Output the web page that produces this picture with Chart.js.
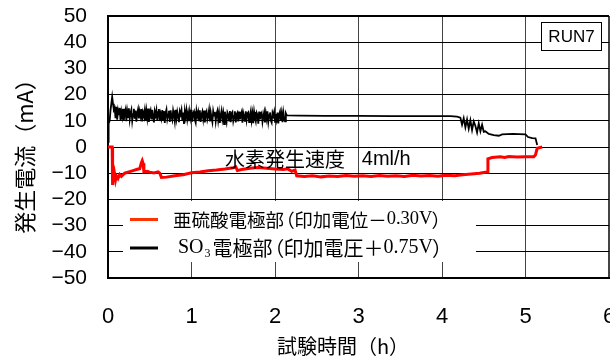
<!DOCTYPE html>
<html>
<head>
<meta charset="utf-8">
<script src="https://cdn.jsdelivr.net/npm/chart.js@4/dist/chart.umd.min.js"></script>
<style>
  html, body { margin: 0; padding: 0; background: #fff; }
</style>
</head>
<body>
<canvas id="chart" width="610" height="361"></canvas>
<script>
// SO3 electrode current, [time (h), current (mA)]
const so3Points = [
  [0.0, 2.0], [0.005, 2.2], [0.01, 9.0], [0.02, 10.0], [0.03, 14.0], [0.05, 19.2], [0.06, 16.5], [0.07, 14.2],
  [0.08, 14.8], [0.09, 11.0], [0.10, 15.3], [0.11, 10.4], [0.12, 13.9], [0.13, 12.2], [0.14, 14.9], [0.15, 10.1], [0.16, 13.5], [0.17, 11.6],
  [0.18, 14.6], [0.19, 10.3], [0.20, 12.8], [0.21, 14.2], [0.22, 9.9], [0.23, 13.7], [0.24, 11.4], [0.25, 14.8], [0.26, 10.6], [0.27, 13.1],
  [0.28, 14.3], [0.29, 10.0], [0.30, 12.5], [0.31, 14.6], [0.32, 10.8], [0.33, 13.9], [0.34, 9.7], [0.35, 12.9], [0.36, 14.4], [0.37, 10.9],
  [0.38, 13.6], [0.39, 11.8], [0.40, 14.5], [0.41, 9.8], [0.42, 13.2], [0.43, 12.0], [0.44, 14.1], [0.45, 10.2], [0.46, 13.8], [0.47, 11.1],
  [0.48, 14.7], [0.49, 9.6], [0.50, 12.7], [0.51, 13.9], [0.52, 10.5], [0.53, 14.2], [0.54, 11.3], [0.55, 9.4], [0.56, 13.6], [0.57, 12.1],
  [0.58, 14.0], [0.59, 10.1], [0.60, 13.3], [0.61, 14.5], [0.62, 9.9], [0.63, 12.6], [0.64, 11.0], [0.65, 14.1], [0.66, 10.4], [0.67, 13.7],
  [0.68, 9.2], [0.69, 13.0], [0.70, 14.3], [0.71, 10.7], [0.72, 12.4], [0.73, 13.8], [0.74, 9.6], [0.75, 14.0], [0.76, 11.5], [0.77, 10.3],
  [0.78, 13.9], [0.79, 12.2], [0.80, 9.8], [0.81, 14.2], [0.82, 10.9], [0.83, 13.4], [0.84, 11.7], [0.85, 9.5], [0.86, 13.6], [0.87, 12.5],
  [0.88, 14.1], [0.89, 10.0], [0.90, 13.1], [0.91, 8.8], [0.92, 13.7], [0.93, 11.4], [0.94, 14.0], [0.95, 10.6], [0.96, 12.8], [0.97, 9.9],
  [0.98, 13.5], [0.99, 11.2], [1.00, 14.2], [1.01, 9.7], [1.02, 12.9], [1.03, 13.6], [1.04, 10.4], [1.05, 9.3], [1.06, 13.8], [1.07, 11.8],
  [1.08, 13.3], [1.09, 10.2], [1.10, 14.0], [1.11, 9.6], [1.12, 12.3], [1.13, 13.5], [1.14, 10.8], [1.15, 13.9], [1.16, 9.4], [1.17, 12.7],
  [1.18, 13.6], [1.19, 10.5], [1.20, 11.9], [1.21, 14.1], [1.22, 9.8], [1.23, 13.2], [1.24, 11.1], [1.25, 9.5], [1.26, 13.7], [1.27, 12.0],
  [1.28, 13.4], [1.29, 9.9], [1.30, 12.6], [1.31, 13.8], [1.32, 10.3], [1.33, 13.0], [1.34, 9.2], [1.35, 12.2], [1.36, 13.9], [1.37, 10.7],
  [1.38, 12.8], [1.39, 8.7], [1.40, 13.5], [1.41, 11.3], [1.42, 9.6], [1.43, 13.2], [1.44, 12.4], [1.45, 10.1], [1.46, 13.7], [1.47, 9.5],
  [1.48, 12.9], [1.49, 13.4], [1.50, 10.0], [1.51, 11.8], [1.52, 13.6], [1.53, 9.4], [1.54, 12.5], [1.55, 13.1], [1.56, 9.8], [1.57, 13.5],
  [1.58, 10.6], [1.59, 12.2], [1.60, 13.3], [1.61, 9.3], [1.62, 13.0], [1.63, 11.6], [1.64, 9.7], [1.65, 13.6], [1.66, 10.4], [1.67, 12.8],
  [1.68, 13.2], [1.69, 9.5], [1.70, 12.0], [1.71, 13.7], [1.72, 10.2], [1.73, 12.7], [1.74, 9.1], [1.75, 13.4], [1.76, 11.2], [1.77, 9.8],
  [1.78, 13.1], [1.79, 12.3], [1.80, 8.9], [1.81, 13.5], [1.82, 10.6], [1.83, 12.4], [1.84, 13.0], [1.85, 9.6], [1.86, 11.7], [1.87, 13.3],
  [1.88, 9.4], [1.89, 12.9], [1.90, 10.8], [1.91, 13.6], [1.92, 9.7], [1.93, 12.2], [1.94, 13.2], [1.95, 10.1], [1.96, 9.3], [1.97, 13.0],
  [1.98, 11.9], [1.99, 13.4], [2.00, 9.6], [2.01, 12.6], [2.02, 10.5], [2.03, 13.1], [2.04, 9.0], [2.05, 12.4], [2.06, 13.5], [2.07, 10.2],
  [2.08, 12.8], [2.09, 9.5], [2.10, 13.2], [2.11, 11.0], [2.12, 9.8], [2.13, 12.9], [2.14, 12.2],
  [2.15, 12.1], [2.3, 12.0], [2.6, 11.9], [3.0, 11.9], [3.4, 11.8], [3.8, 11.8], [4.1, 11.8], [4.18, 11.6],
  [4.22, 11.2], [4.24, 8.5], [4.26, 11.0], [4.28, 7.5], [4.30, 10.5], [4.32, 7.0], [4.34, 10.2], [4.36, 6.5],
  [4.38, 9.8], [4.40, 8.0], [4.42, 5.5], [4.44, 9.0], [4.46, 6.0], [4.48, 8.5], [4.50, 5.8], [4.52, 6.0],
  [4.56, 5.0], [4.62, 4.5], [4.68, 4.3], [4.72, 4.8], [4.78, 4.9], [4.85, 5.0], [4.92, 4.9], [5.0, 4.8],
  [5.03, 3.8], [5.08, 3.4], [5.12, 3.3], [5.14, 0.8]
];

// sulfite electrode current, [time (h), current (mA)]
const acidPoints = [
  [0.0, 0.0], [0.05, 0.0], [0.055, -14.5], [0.06, -11.0], [0.07, -13.0], [0.08, -10.5], [0.09, -12.5],
  [0.10, -11.0], [0.12, -12.0], [0.14, -10.5], [0.16, -11.2], [0.20, -10.0], [0.25, -9.5], [0.30, -9.0],
  [0.35, -8.5], [0.38, -8.3], [0.40, -6.0], [0.41, -5.2], [0.42, -6.2], [0.43, -9.5], [0.47, -9.3],
  [0.50, -9.6], [0.55, -9.9], [0.60, -9.5], [0.62, -10.0], [0.64, -11.6], [0.70, -11.5], [0.80, -11.0],
  [0.90, -10.6], [1.00, -9.8], [1.10, -9.5], [1.20, -9.1], [1.30, -8.8], [1.40, -8.4], [1.50, -7.9],
  [1.53, -7.6], [1.55, -9.0], [1.60, -8.6], [1.70, -8.1], [1.80, -7.8], [1.90, -8.1], [2.00, -8.4],
  [2.10, -8.6], [2.15, -8.3], [2.20, -9.3], [2.24, -8.8], [2.26, -11.0], [2.35, -11.3], [2.45, -11.0],
  [2.55, -11.4], [2.65, -11.1], [2.75, -11.3], [2.85, -10.9], [2.95, -11.2], [3.05, -11.0], [3.15, -11.3],
  [3.25, -10.9], [3.35, -11.2], [3.45, -11.0], [3.55, -11.3], [3.65, -10.8], [3.75, -11.1], [3.85, -10.9],
  [3.95, -11.2], [4.05, -10.8], [4.15, -11.0], [4.25, -10.6], [4.35, -10.3], [4.45, -10.0], [4.52, -9.6],
  [4.545, -9.5], [4.55, -4.5], [4.60, -4.0], [4.70, -3.7], [4.75, -4.0], [4.80, -3.6], [4.90, -3.8],
  [5.00, -3.7], [5.10, -3.7], [5.12, -3.0], [5.14, -0.5], [5.20, 0.0]
];

const seriesLabels = ['亜硫酸電極部（印加電位－0.30V）', 'SO₃電極部（印加電圧＋0.75V）'];
const seriesColors = ['#ff0000', '#000000'];
const legendColors = ['#ff3300', '#000000'];
// legend rows split by script so Latin parts can use a serif face
const legendRows = [
  [['亜硫酸電極部', 'jp'], ['（', 'open'], ['印加電位－', 'jp'], ['0.30V', 'serif'], ['）', 'close']],
  [['SO', 'serif'], ['3', 'sub'], ['電極部', 'jp'], ['（', 'open'], ['印加電圧＋', 'jp'], ['0.75V', 'serif'], ['）', 'close']]
];
const xTitle = '試験時間（h）';
const yTitle = '発生電流（mA）';
const noteParts = ['水素発生速度', '4ml/h'];
const runLabel = 'RUN7';

const JP = '"Noto Sans CJK JP", sans-serif';

function drawRun(ctx, parts, x, y, size) {
  parts.forEach(([text, kind]) => {
    if (kind == 'serif') {
      ctx.font = size + 'px "Liberation Serif"';
      ctx.fillText(text, x, y);
      x += ctx.measureText(text).width;
    } else if (kind == 'sub') {
      ctx.font = Math.round(size * 0.62) + 'px "Liberation Serif"';
      ctx.fillText(text, x + 1, y + size * 0.3);
      x += ctx.measureText(text).width + 3;
    } else if (kind == 'open') {
      ctx.font = size + 'px ' + JP;
      ctx.fillText(text, x - size * 0.42, y);
      x += size * 0.55;
    } else if (kind == 'close') {
      ctx.font = size + 'px ' + JP;
      ctx.fillText(text, x - size * 0.05, y);
      x += size * 0.5;
    } else {
      ctx.font = size + 'px ' + JP;
      ctx.fillText(text, x, y);
      x += ctx.measureText(text).width;
    }
  });
}

// Titles, note, RUN box and the in-plot legend
const decor = {
  id: 'decor',
  afterDraw(chart) {
    const ctx = chart.ctx;
    const area = chart.chartArea;
    const xs = chart.scales.x;
    const ys = chart.scales.y;
    ctx.save();
    ctx.fillStyle = '#000';
    ctx.textBaseline = 'middle';

    // axis titles
    ctx.textAlign = 'center';
    ctx.font = '20px ' + JP;
    ctx.fillText(xTitle, 343, 346);
    ctx.save();
    ctx.translate(25, 151);
    ctx.rotate(-Math.PI / 2);
    ctx.font = '22px ' + JP;
    ctx.fillText(yTitle, 0, 0);
    ctx.restore();

    // hydrogen rate note
    ctx.textAlign = 'left';
    let nx = xs.getPixelForValue(1.40);
    let ny = ys.getPixelForValue(-4.6);
    ctx.font = '20px ' + JP;
    ctx.fillText(noteParts[0], nx, ny);
    ctx.font = '20px "Liberation Sans"';
    ctx.fillText(noteParts[1], xs.getPixelForValue(3.04), ny);

    // RUN label box
    ctx.fillStyle = '#fff';
    ctx.fillRect(541.5, 22.5, 60, 28);
    ctx.strokeStyle = '#000';
    ctx.lineWidth = 1;
    ctx.strokeRect(541.5, 22.5, 60, 28);
    ctx.fillStyle = '#000';
    ctx.textAlign = 'center';
    ctx.font = '17px "Liberation Sans"';
    ctx.fillText(runLabel, 571.5, 37);

    // legend, white box over the grid
    ctx.textAlign = 'left';
    ctx.fillStyle = '#fff';
    ctx.fillRect(area.left + 15, 201, 353, 61);
    const rowY = [219.5, 248];
    const rowSize = [18.5, 20];
    legendRows.forEach((row, i) => {
      ctx.strokeStyle = legendColors[i];
      ctx.lineWidth = 3;
      ctx.beginPath();
      ctx.moveTo(130, rowY[i]);
      ctx.lineTo(158, rowY[i]);
      ctx.stroke();
      ctx.fillStyle = '#000';
      drawRun(ctx, row, i == 0 ? 173 : 178, rowY[i], rowSize[i]);
    });
    ctx.restore();
  }
};

new Chart(document.getElementById('chart'), {
  type: 'line',
  data: {
    datasets: [
      {
        label: seriesLabels[0],
        data: acidPoints.map(p => ({ x: p[0], y: p[1] })),
        borderColor: seriesColors[0],
        borderWidth: 3,
        pointRadius: 0,
        tension: 0
      },
      {
        label: seriesLabels[1],
        data: so3Points.map(p => ({ x: p[0], y: p[1] })),
        borderColor: seriesColors[1],
        borderWidth: 1.8,
        pointRadius: 0,
        tension: 0
      }
    ]
  },
  options: {
    responsive: false,
    animation: false,
    layout: { padding: { top: 16, right: 1, left: 0, bottom: 0 } },
    plugins: {
      legend: { display: false },
      tooltip: { enabled: false }
    },
    scales: {
      x: {
        type: 'linear',
        min: 0,
        max: 6,
        ticks: {
          stepSize: 1,
          autoSkip: false,
          maxRotation: 0,
          padding: 26,
          color: '#000',
          font: { family: 'Liberation Sans', size: 22 }
        },
        grid: {
          color: '#444',
          lineWidth: ctx => (ctx.tick && ctx.tick.value == 6 ? 2 : 1),
          drawTicks: false
        },
        border: { color: '#000', width: 2 },
        afterFit(scale) {
          scale.height = 83;
          scale.paddingLeft = 0;
          scale.paddingRight = 0;
        }
      },
      y: {
        min: -50,
        max: 50,
        ticks: {
          stepSize: 10,
          autoSkip: false,
          padding: 21,
          color: '#000',
          font: { family: 'Liberation Sans', size: 21 },
          callback: v => (v < 0 ? '\u2212' + Math.abs(v) : String(v))
        },
        grid: {
          color: '#000',
          lineWidth: ctx => (ctx.tick && ctx.tick.value == 50 ? 2 : 1),
          drawTicks: false
        },
        border: { color: '#000', width: 2 },
        afterFit(scale) {
          scale.width = 108;
          scale.paddingTop = 0;
          scale.paddingBottom = 0;
        }
      }
    }
  },
  plugins: [decor]
});
</script>
</body>
</html>
